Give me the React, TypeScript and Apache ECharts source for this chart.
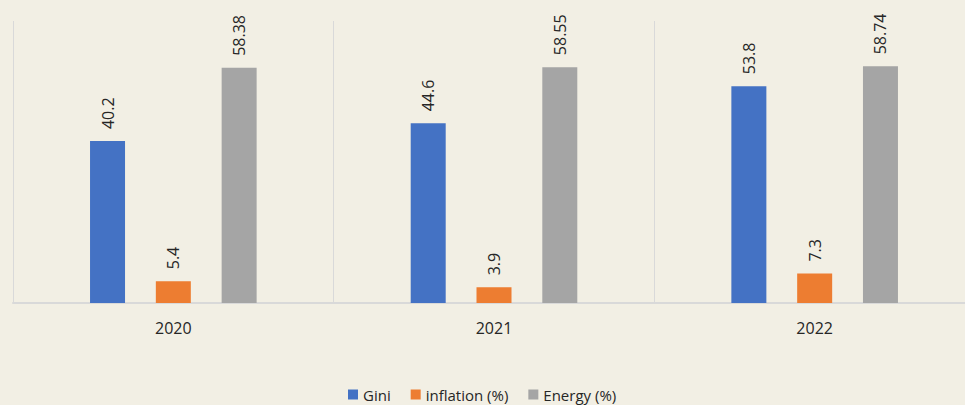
import React, { useEffect, useRef } from "react";
import * as echarts from "echarts";

const categories = ["2020", "2021", "2022"];
const gini = [40.2, 44.6, 53.8];
const inflation = [5.4, 3.9, 7.3];
const energy = [58.38, 58.55, 58.74];

const FONT = "'Open Sans', 'Noto Sans', sans-serif";

export default function App() {
  const ref = useRef<HTMLDivElement>(null);
  useEffect(() => {
    if (!ref.current) return;
    const chart = echarts.init(ref.current, undefined, { renderer: "svg" });
    const label = {
      show: true,
      position: "top",
      rotate: 90,
      align: "left",
      verticalAlign: "middle",
      distance: 12,
      color: "#262626",
      fontSize: 16,
      fontFamily: FONT,
    };
    const mk = (name: string, data: number[], color: string) => ({
      name,
      type: "bar",
      data,
      barWidth: 35,
      barGap: "88%",
      itemStyle: { color },
      label,
    });
    chart.setOption({
      animation: false,
      backgroundColor: "#f2efe4",
      textStyle: { fontFamily: FONT },
      grid: { left: 13, right: 5, top: 21, bottom: 102 },
      xAxis: {
        type: "category",
        data: categories,
        axisLine: { show: true, lineStyle: { color: "#d9d9d9", width: 2 } },
        axisTick: { show: false },
        splitLine: { show: true, lineStyle: { color: "#d9d9d9", width: 1 } },
        axisLabel: { color: "#262626", fontSize: 16, margin: 17, fontFamily: FONT },
      },
      yAxis: { type: "value", min: 0, max: 70, show: false, splitLine: { show: false } },
      legend: {
        data: ["Gini", "inflation (%)", "Energy (%)"],
        top: 382,
        left: 343,
        itemWidth: 10,
        itemHeight: 10,
        itemGap: 20,
        icon: "rect",
        textStyle: { color: "#262626", fontSize: 15, fontFamily: FONT },
      },
      series: [
        mk("Gini", gini, "#4472c4"),
        mk("inflation (%)", inflation, "#ed7d31"),
        mk("Energy (%)", energy, "#a5a5a5"),
      ],
    });
    return () => chart.dispose();
  }, []);
  return (
    <div style={{ width: 965, height: 405, position: "absolute", left: 0, top: 0, overflow: "hidden" }}>
      <div ref={ref} style={{ width: 980, height: 405 }} />
    </div>
  );
}
